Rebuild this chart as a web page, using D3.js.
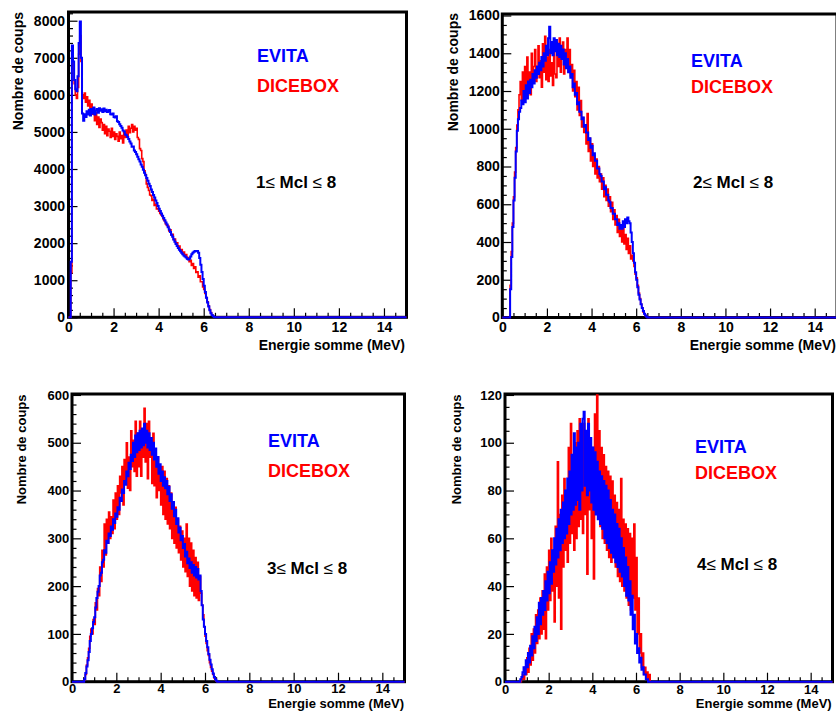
<!DOCTYPE html>
<html>
<head>
<meta charset="utf-8">
<script src="https://cdn.jsdelivr.net/npm/d3@7"></script>
<style>
  html, body { margin: 0; padding: 0; background: #fff; }
  svg { display: block; }
  text { font-family: "Liberation Sans", Arial, Helvetica, sans-serif; font-weight: bold; }
</style>
</head>
<body>
<svg id="chart" width="836" height="715"></svg>
<script>
// ---------------- DATA ----------------
// Histogram bins of 0.05 MeV, starting at 0 MeV
const binWidth = 0.05;
const energyMax = 15;
const xTickValues = [0, 2, 4, 6, 8, 10, 12, 14];
const seriesNames = ["EVITA", "DICEBOX"];
const multiplicityLabels = ["1", "2", "3", "4"];

// Panel 1 : 1 <= Mcl <= 8
const p1Evita = [
  0, 0, 1500, 7330, 6900, 6400, 6150, 6100, 6500, 7400, 7980, 7000, 5500, 5300, 5480, 5400, 5560, 5470, 5600, 5440,
  5620, 5500, 5660, 5470, 5580, 5620, 5520, 5640, 5570, 5610, 5540, 5630, 5560, 5600, 5540, 5560, 5590, 5480, 5470, 5500,
  5400, 5390, 5420, 5290, 5270, 5210, 5160, 5110, 5040, 5010, 4930, 4910, 4860, 4810, 4740, 4690, 4600, 4610, 4500, 4460,
  4400, 4330, 4260, 4200, 4120, 4060, 3980, 3900, 3830, 3760, 3680, 3600, 3540, 3450, 3380, 3300, 3230, 3150, 3080, 3000,
  2930, 2870, 2800, 2740, 2680, 2620, 2560, 2500, 2430, 2370, 2300, 2230, 2170, 2100, 2040, 1980, 1920, 1870, 1820, 1780,
  1740, 1700, 1670, 1640, 1610, 1580, 1560, 1580, 1640, 1700, 1740, 1770, 1790, 1780, 1790, 1740, 1600, 1420, 1220, 1030,
  850, 680, 530, 400, 290, 190, 110, 60, 25, 8, 0, 0, 0, 0, 0, 0, 0, 0, 0, 0
];
const p1Dicebox = [
  0, 0, 1200, 6900, 6700, 6300, 6000, 5900, 6200, 7100, 7600, 6900, 6000, 5900, 6050, 5800, 5950, 5700, 5850, 5620,
  5750, 5480, 5650, 5300, 5520, 5200, 5400, 5120, 5350, 5250, 5050, 5200, 4950, 5150, 4900, 5080, 5020, 4850, 5100, 4880,
  5000, 4800, 4950, 4880, 4750, 5000, 4820, 4900, 4700, 4980, 4850, 5050, 4900, 5150, 4980, 5100, 5200, 5000, 5150, 5050,
  5100, 4850, 4800, 4550, 4500, 4280, 4200, 3950, 3850, 3600, 3500, 3420, 3300, 3280, 3150, 3180, 3020, 3050, 2920, 2930,
  2860, 2800, 2760, 2720, 2640, 2600, 2520, 2480, 2460, 2330, 2360, 2220, 2240, 2100, 2110, 2000, 2010, 1900, 1920, 1820,
  1830, 1720, 1760, 1650, 1690, 1580, 1610, 1500, 1540, 1400, 1450, 1320, 1360, 1210, 1230, 1080, 1120, 960, 960, 820,
  750, 640, 530, 420, 310, 210, 130, 70, 30, 10, 0, 0, 0, 0, 0, 0, 0, 0, 0, 0
];

// Panel 2 : 2 <= Mcl <= 8
const p2Evita = [
  0, 0, 0, 0, 0, 0, 0, 150, 320, 480, 620, 740, 880, 990, 1050, 1090, 1110, 1150, 1130, 1200,
  1140, 1230, 1160, 1250, 1190, 1260, 1220, 1290, 1240, 1310, 1270, 1330, 1290, 1350, 1310, 1380, 1330, 1400, 1360, 1440,
  1390, 1480, 1540, 1400, 1460, 1390, 1480, 1410, 1470, 1390, 1450, 1380, 1440, 1370, 1420, 1340, 1400, 1320, 1370, 1300,
  1330, 1270, 1290, 1220, 1240, 1180, 1190, 1130, 1140, 1090, 1090, 1050, 1060, 1010, 1020, 980, 980, 940, 950, 900,
  910, 860, 870, 830, 830, 790, 790, 760, 750, 720, 720, 680, 690, 650, 650, 620, 610, 580, 580, 550,
  550, 520, 520, 490, 500, 470, 490, 470, 510, 480, 520, 500, 530, 510, 500, 450, 400, 340, 290, 240,
  200, 160, 120, 95, 70, 50, 35, 20, 10, 4, 0, 0, 0, 0, 0, 0, 0, 0, 0, 0
];
const p2Dicebox = [
  0, 0, 0, 0, 0, 0, 0, 170, 350, 500, 640, 770, 900, 1020, 1100, 1180, 1250, 1150, 1300, 1180,
  1330, 1200, 1380, 1240, 1300, 1180, 1400, 1260, 1330, 1420, 1250, 1300, 1440, 1270, 1360, 1220, 1450, 1300, 1490, 1260,
  1380, 1250, 1420, 1280, 1350, 1230, 1440, 1290, 1270, 1400, 1330, 1480, 1300, 1400, 1460, 1290, 1420, 1340, 1480, 1300,
  1420, 1280, 1340, 1200, 1310, 1170, 1250, 1100, 1220, 1070, 1150, 1010, 1060, 980, 1020, 920, 1080, 880, 950, 830,
  920, 800, 860, 760, 840, 740, 800, 720, 760, 680, 740, 640, 700, 620, 680, 590, 640, 560, 610, 520,
  570, 490, 540, 450, 520, 430, 480, 400, 470, 390, 440, 360, 420, 340, 380, 310, 330, 300, 270, 230,
  210, 170, 130, 100, 70, 50, 30, 20, 10, 5, 0, 0, 0, 0, 0, 0, 0, 0, 0, 0
];

// Panel 3 : 3 <= Mcl <= 8
const p3Evita = [
  0, 0, 0, 0, 0, 0, 0, 0, 0, 0, 0, 5, 18, 32, 45, 62, 85, 100, 112, 125,
  135, 155, 175, 188, 200, 222, 228, 250, 255, 275, 270, 295, 290, 310, 305, 325, 318, 340, 332, 352,
  345, 365, 360, 385, 378, 402, 395, 420, 412, 440, 430, 458, 445, 475, 462, 500, 470, 515, 480, 520,
  485, 525, 490, 530, 495, 540, 500, 525, 490, 520, 485, 510, 475, 500, 465, 488, 450, 470, 435, 455,
  420, 440, 410, 428, 405, 420, 392, 408, 378, 392, 362, 376, 346, 360, 330, 342, 312, 322, 296, 305,
  280, 288, 262, 272, 248, 258, 238, 250, 228, 244, 222, 240, 218, 236, 214, 222, 190, 160, 130, 115,
  100, 85, 72, 58, 46, 36, 26, 17, 10, 5, 2, 0, 0, 0, 0, 0, 0, 0, 0, 0
];
const p3Dicebox = [
  0, 0, 0, 0, 0, 0, 0, 0, 0, 0, 0, 4, 15, 35, 50, 70, 95, 110, 100, 130,
  120, 165, 150, 195, 180, 240, 210, 275, 240, 330, 265, 340, 290, 355, 300, 345, 310, 380, 320, 395,
  340, 410, 350, 430, 395, 450, 370, 465, 420, 500, 405, 470, 400, 525, 450, 505, 440, 545, 430, 520,
  450, 545, 430, 520, 470, 572, 460, 540, 425, 545, 470, 505, 415, 520, 410, 480, 385, 470, 400, 450,
  370, 450, 350, 440, 340, 425, 330, 410, 320, 395, 300, 375, 290, 365, 280, 340, 270, 325, 255, 315,
  240, 300, 230, 330, 220, 300, 200, 290, 190, 275, 180, 260, 175, 250, 170, 220, 185, 160, 140, 115,
  95, 80, 65, 55, 40, 30, 22, 15, 8, 4, 1, 0, 0, 0, 0, 0, 0, 0, 0, 0
];

// Panel 4 : 4 <= Mcl <= 8
const p4Evita = [
  0, 0, 0, 0, 0, 0, 0, 0, 0, 0, 0, 0, 0, 0, 1, 2, 4, 6, 3, 9,
  6, 12, 8, 15, 11, 19, 14, 23, 17, 27, 20, 33, 24, 35, 28, 38, 30, 42, 34, 46,
  37, 50, 41, 55, 46, 60, 49, 64, 52, 68, 55, 72, 58, 75, 60, 80, 62, 85, 66, 88,
  70, 95, 72, 104, 74, 98, 76, 100, 72, 108, 80, 110, 113, 82, 105, 78, 108, 80, 102, 75,
  98, 72, 96, 70, 92, 68, 88, 66, 86, 64, 84, 60, 82, 58, 80, 56, 76, 54, 72, 52,
  70, 50, 66, 48, 64, 46, 60, 44, 56, 40, 52, 36, 48, 34, 42, 28, 36, 22, 28, 16,
  20, 12, 14, 8, 10, 5, 6, 3, 3, 1, 1, 0, 0, 0, 0, 0, 0, 0, 0, 0
];
const p4Dicebox = [
  0, 0, 0, 0, 0, 0, 0, 0, 0, 0, 0, 0, 0, 0, 0, 1, 3, 1, 6, 3,
  10, 4, 14, 7, 20, 9, 22, 12, 28, 16, 30, 18, 35, 20, 38, 22, 45, 18, 48, 30,
  55, 34, 60, 38, 52, 25, 65, 40, 92, 35, 70, 22, 78, 48, 85, 55, 80, 50, 98, 58,
  108, 62, 95, 55, 100, 60, 105, 65, 110, 68, 95, 62, 108, 70, 100, 45, 110, 72, 102, 60,
  98, 43, 112, 75, 120, 70, 105, 65, 98, 60, 95, 58, 90, 55, 88, 52, 86, 50, 84, 55,
  78, 48, 75, 44, 72, 42, 85, 40, 68, 38, 66, 35, 64, 32, 62, 30, 60, 35, 66, 30,
  52, 20, 35, 12, 20, 6, 12, 3, 6, 1, 4, 1, 3, 0, 0, 0, 0, 0, 0, 0
];

// y-axis ranges and tick steps for each panel
const yMaxima = [8235, 1608, 602, 120.4];
const yMajorSteps = [1000, 200, 100, 20];
const yMinorSteps = [200, 50, 20, 5];

// ---------------- LAYOUT ----------------
const layout = [
  { box: [68.5, 12, 406.5, 317.3], font: 14, xPad: 4.5, yPad: 3.5, yTitle: [23, 12], xTitle: [405, 350],
    legend: [257, 62, 92], mcl: [256, 188] },
  { box: [502.3, 14, 837, 317.5], font: 14, xPad: 4.5, yPad: 2.5, yTitle: [458, 13], xTitle: [836, 349.5],
    legend: [691, 67, 93], mcl: [693, 188] },
  { box: [72, 394, 404.5, 681.7], font: 13, xPad: 2.5, yPad: 2.7, yTitle: [26, 394.5], xTitle: [404, 708.3],
    legend: [268, 447, 477], mcl: [267, 574] },
  { box: [505, 394, 832.5, 681.7], font: 13, xPad: 3, yPad: 3, yTitle: [461, 394.5], xTitle: [831.7, 708],
    legend: [695, 453, 479], mcl: [697, 570] }
];
const dataSets = [[p1Evita, p1Dicebox], [p2Evita, p2Dicebox], [p3Evita, p3Dicebox], [p4Evita, p4Dicebox]];
const colors = { EVITA: "#0000ff", DICEBOX: "#ff0000" };

const svg = d3.select("#chart");

function toPoints(vals) {
  const pts = vals.map((v, i) => [i * binWidth, v]);
  pts.push([energyMax, 0]);
  return pts;
}

layout.forEach((L, k) => {
  const [x0, y0, x1, y1] = L.box;
  const x = d3.scaleLinear().domain([0, energyMax]).range([x0, x1]);
  const y = d3.scaleLinear().domain([0, yMaxima[k]]).range([y1, y0]);
  const g = svg.append("g");

  // frame
  g.append("rect").attr("x", x0).attr("y", y0).attr("width", x1 - x0).attr("height", y1 - y0)
    .attr("fill", "none").attr("stroke", "#000").attr("stroke-width", 3);

  // y axis
  const yMajor = d3.range(0, yMaxima[k] + 1e-6, yMajorSteps[k]);
  const yMinor = d3.range(0, yMaxima[k] + 1e-6, yMinorSteps[k]).filter(v => !yMajor.some(m => Math.abs(m - v) < 1e-6));
  g.append("g").attr("transform", `translate(${x0},0)`)
    .call(d3.axisLeft(y).tickValues(yMajor).tickSize(-9).tickPadding(L.yPad).tickFormat(d3.format("d")));
  g.append("g").attr("transform", `translate(${x0},0)`)
    .call(d3.axisLeft(y).tickValues(yMinor).tickSize(-4.5).tickFormat(""));

  // x axis
  const xMinor = d3.range(0, energyMax + 1e-6, 0.5).filter(v => v % 2 !== 0);
  g.append("g").attr("transform", `translate(0,${y1})`)
    .call(d3.axisBottom(x).tickValues(xTickValues).tickSize(-9).tickPadding(L.xPad).tickFormat(d3.format("d")));
  g.append("g").attr("transform", `translate(0,${y1})`)
    .call(d3.axisBottom(x).tickValues(xMinor).tickSize(-4.5).tickFormat(""));

  g.selectAll(".domain").remove();
  g.selectAll(".tick line").attr("stroke", "#000").attr("stroke-width", 1.2);
  g.selectAll(".tick text").attr("fill", "#000").style("font-size", L.font + "px")
    .style("font-family", '"Liberation Sans", Arial, sans-serif').style("font-weight", "bold");

  // histograms
  const line = d3.line().x(d => x(d[0])).y(d => y(d[1])).curve(d3.curveStepAfter);
  const [evita, dicebox] = dataSets[k];
  g.append("path").datum(toPoints(dicebox)).attr("d", line)
    .attr("fill", "none").attr("stroke", colors.DICEBOX).attr("stroke-width", 1.6);
  g.append("path").datum(toPoints(evita)).attr("d", line)
    .attr("fill", "none").attr("stroke", colors.EVITA).attr("stroke-width", 2);

  // axis titles
  g.append("text").attr("transform", `translate(${L.yTitle[0]},${L.yTitle[1]}) rotate(-90)`)
    .attr("text-anchor", "end").style("font-size", L.font + "px").text("Nombre de coups");
  g.append("text").attr("x", L.xTitle[0]).attr("y", L.xTitle[1])
    .attr("text-anchor", "end").style("font-size", L.font + "px").text("Energie somme (MeV)");

  // legend
  g.append("text").attr("x", L.legend[0]).attr("y", L.legend[1]).attr("fill", colors.EVITA)
    .style("font-size", "18px").text(seriesNames[0]);
  g.append("text").attr("x", L.legend[0]).attr("y", L.legend[2]).attr("fill", colors.DICEBOX)
    .style("font-size", "18px").text(seriesNames[1]);

  // multiplicity label
  const t = g.append("text").attr("x", L.mcl[0]).attr("y", L.mcl[1]).style("font-size", "17px").attr("fill", "#000");
  t.append("tspan").text(multiplicityLabels[k]);
  t.append("tspan").style("font-weight", "normal").text("\u2264");
  t.append("tspan").text(" Mcl ");
  t.append("tspan").style("font-weight", "normal").text("\u2264");
  t.append("tspan").text(" 8");
});
</script>
</body>
</html>
